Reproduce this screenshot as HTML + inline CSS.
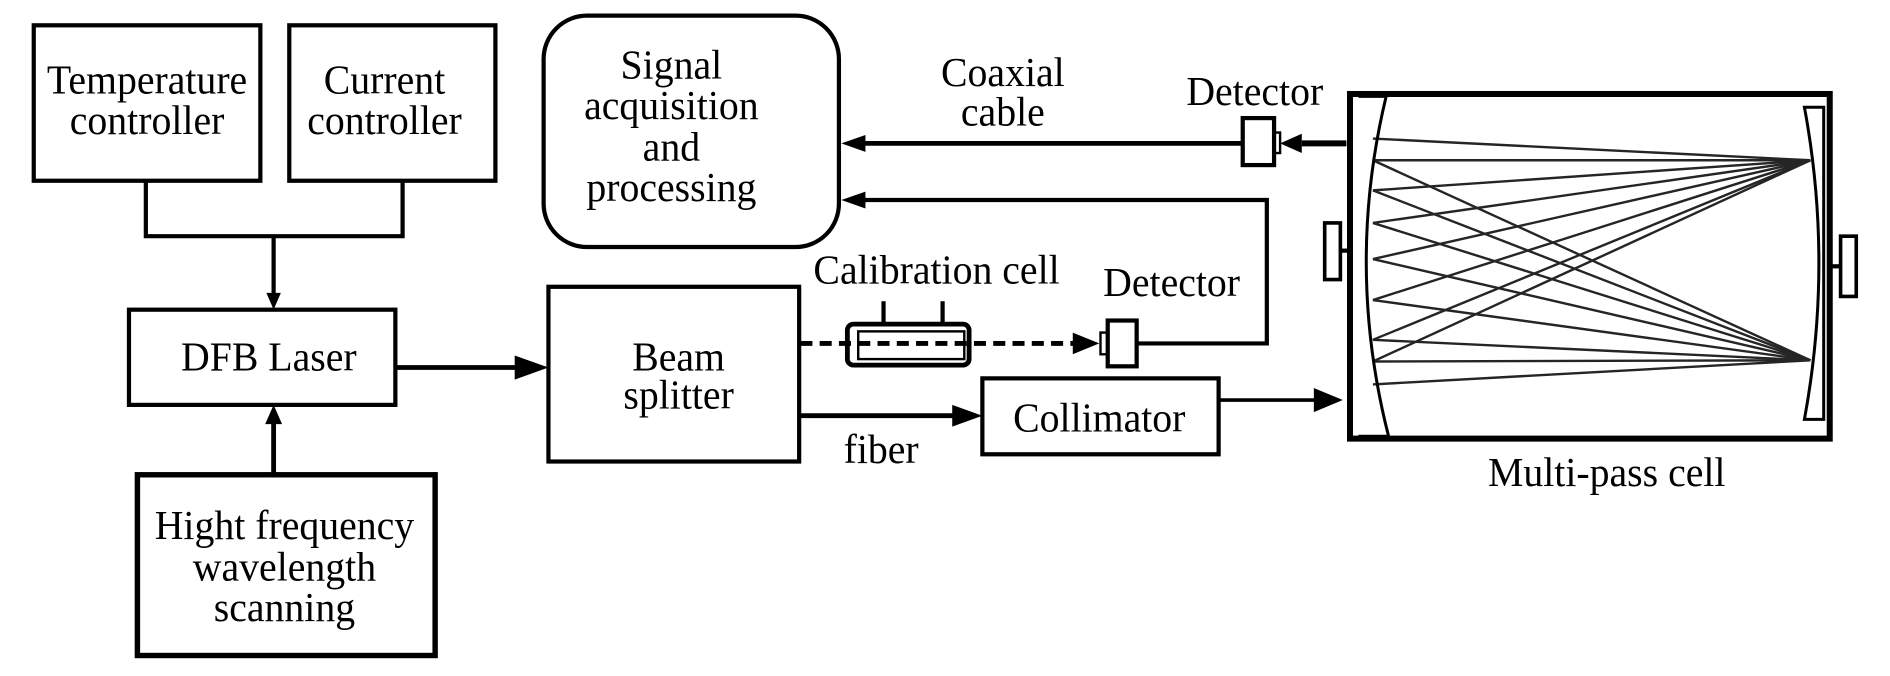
<!DOCTYPE html>
<html><head><meta charset="utf-8"><style>
html,body{margin:0;padding:0;background:#fff;}
svg{display:block;}
text{font-family:"Liberation Serif",serif;font-size:33px;fill:#000;text-anchor:middle;}
</style></head><body>
<svg width="1890" height="676" viewBox="0 0 1568 561" preserveAspectRatio="none" xmlns="http://www.w3.org/2000/svg">
<g fill="none" stroke="#000" stroke-width="3.5">
<rect x="28" y="21" width="188" height="129"/>
<rect x="240" y="21" width="171" height="129"/>
<polyline points="121,150 121,196 334,196 334,150"/>
<line x1="227" y1="196" x2="227" y2="245"/>
<rect x="107" y="257" width="221" height="79"/>
<rect x="114" y="394" width="247" height="150" stroke-width="4.5"/>
<line x1="227" y1="393" x2="227" y2="350" stroke-width="4"/>
<line x1="328" y1="305" x2="430" y2="305" stroke-width="4"/>
<rect x="455" y="238" width="208" height="145"/>
<rect x="451" y="13" width="245" height="192" rx="36" ry="36"/>
<line x1="716" y1="119" x2="1031" y2="119" stroke-width="4"/>
<line x1="1080" y1="119" x2="1117" y2="119" stroke-width="5"/>
<polyline points="716,166 1051,166 1051,285 943,285"/>
<line x1="664" y1="285" x2="892" y2="285" stroke-width="4" stroke-dasharray="10,6"/>
<line x1="664" y1="345" x2="792" y2="345" stroke-width="4"/>
<rect x="815" y="314" width="196" height="63"/>
<line x1="1011" y1="332" x2="1092" y2="332" stroke-width="3"/>
<rect x="703" y="269" width="101" height="34" rx="5" stroke-width="4"/>
<rect x="712" y="275" width="88" height="23" stroke-width="2"/>
<line x1="733" y1="268" x2="733" y2="250"/>
<line x1="782" y1="268" x2="782" y2="250"/>
<rect x="1031" y="98" width="26" height="39"/>
<rect x="1057" y="110" width="5" height="17" stroke-width="2"/>
<rect x="919" y="266" width="24" height="38"/>
<rect x="913" y="276" width="6" height="18" stroke-width="2"/>
<rect x="1120" y="78" width="398" height="286" stroke-width="5"/>
<path d="M1127 80 L1150 80 Q1116 221 1152 362 L1127 362" stroke-width="2.5"/>
<path d="M1497 89 L1513 89 L1513 348 L1497 348 Q1521 218 1497 89 Z" stroke-width="2.5"/>
<rect x="1099" y="185" width="13" height="47" stroke-width="3"/>
<line x1="1112" y1="208" x2="1120" y2="208"/>
<rect x="1527" y="196" width="13" height="50" stroke-width="3"/>
<line x1="1518" y1="221" x2="1527" y2="221"/>
</g>
<g stroke="#000" stroke-width="2" fill="none" opacity="0.85">
<line x1="1139" y1="115" x2="1502" y2="133"/>
<line x1="1139" y1="133" x2="1502" y2="133"/>
<line x1="1139" y1="158" x2="1502" y2="133"/>
<line x1="1139" y1="185" x2="1502" y2="133"/>
<line x1="1139" y1="215" x2="1502" y2="133"/>
<line x1="1139" y1="249" x2="1502" y2="133"/>
<line x1="1139" y1="282" x2="1502" y2="133"/>
<line x1="1139" y1="300" x2="1502" y2="133"/>
<line x1="1139" y1="133" x2="1502" y2="299"/>
<line x1="1139" y1="158" x2="1502" y2="299"/>
<line x1="1139" y1="185" x2="1502" y2="299"/>
<line x1="1139" y1="215" x2="1502" y2="299"/>
<line x1="1139" y1="249" x2="1502" y2="299"/>
<line x1="1139" y1="282" x2="1502" y2="299"/>
<line x1="1139" y1="300" x2="1502" y2="299"/>
<line x1="1139" y1="319" x2="1502" y2="299"/>
</g>
<g fill="#000">
<polygon points="227,257 221,243 233,243"/>
<polygon points="227,336 220,352 234,352"/>
<polygon points="455,305 427,295 427,315"/>
<polygon points="698,119 718,112 718,126"/>
<polygon points="698,166 718,159 718,173"/>
<polygon points="1062,119 1080,111 1080,127"/>
<polygon points="912,285 890,276 890,294"/>
<polygon points="815,345 790,336 790,354"/>
<polygon points="1114,332 1090,322 1090,342"/>
</g>
<g transform="scale(1,1.05)">
<text x="122" y="74">Temperature</text>
<text x="122" y="106">controller</text>
<text x="319" y="74">Current</text>
<text x="319" y="106">controller</text>
<text x="557" y="62">Signal</text>
<text x="557" y="94">acquisition</text>
<text x="557" y="127">and</text>
<text x="557" y="159">processing</text>
<text x="223" y="293">DFB Laser</text>
<text x="563" y="293">Beam</text>
<text x="563" y="323">splitter</text>
<text x="236" y="426">Hight frequency</text>
<text x="236" y="459">wavelength</text>
<text x="236" y="491">scanning</text>
<text x="832" y="68">Coaxial</text>
<text x="832" y="99">cable</text>
<text x="1041" y="83">Detector</text>
<text x="777" y="224">Calibration cell</text>
<text x="972" y="234">Detector</text>
<text x="731" y="366">fiber</text>
<text x="912" y="341">Collimator</text>
<text x="1333" y="384">Multi-pass cell</text>
</g>
</svg>
</body></html>
